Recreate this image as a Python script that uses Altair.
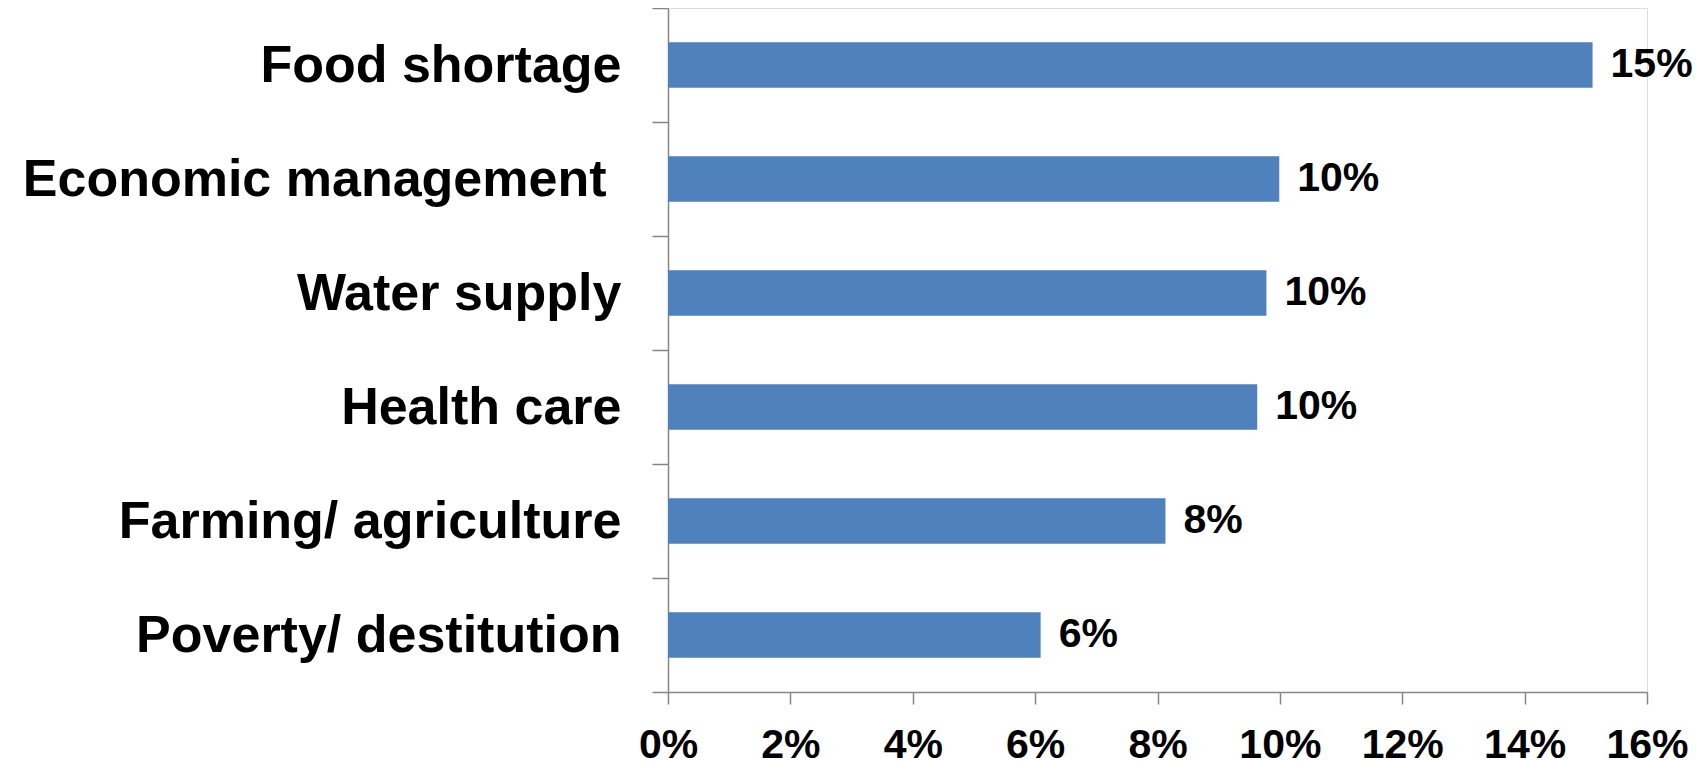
import altair as alt
import pandas as pd

categories = [
    "Food shortage",
    "Economic management",
    "Water supply",
    "Health care",
    "Farming/ agriculture",
    "Poverty/ destitution",
]
values = [0.1511, 0.0999, 0.0978, 0.0963, 0.0813, 0.0609]
x_ticks = [0, 0.02, 0.04, 0.06, 0.08, 0.10, 0.12, 0.14, 0.16]

df = pd.DataFrame({"category": categories, "value": values})

FONT = "Liberation Sans"
GRAY = "#868686"

y_enc = alt.Y(
    "category:N",
    sort=categories,
    title=None,
    scale=alt.Scale(paddingInner=0, paddingOuter=0),
    axis=alt.Axis(
        tickBand="extent",
        tickSize=16,
        tickColor=GRAY,
        tickWidth=1.5,
        domainColor=GRAY,
        domainWidth=1.5,
        labelFont=FONT,
        labelFontSize=52,
        labelFontWeight="bold",
        labelColor="black",
        labelPadding={
            "condition": {"test": "datum.value == 'Economic management'", "value": 46},
            "value": 31,
        },
        labelLimit=1000,
    ),
)

x_enc = alt.X(
    "value:Q",
    title=None,
    scale=alt.Scale(domain=[0, 0.16], nice=False),
    axis=alt.Axis(
        values=x_ticks,
        format=".0%",
        grid=False,
        tickSize=12,
        tickColor=GRAY,
        tickWidth=1.5,
        domainColor=GRAY,
        domainWidth=1.5,
        labelFont=FONT,
        labelFontSize=41,
        labelFontWeight="bold",
        labelColor="black",
        labelPadding=21,
        labelFlush=False,
        labelOverlap=False,
    ),
)

bars = alt.Chart(df).mark_bar(color="#4F81BD", size=45.6).encode(x=x_enc, y=y_enc)

labels = alt.Chart(df).mark_text(
    align="left",
    baseline="middle",
    dx=18,
    font=FONT,
    fontSize=41,
    fontWeight="bold",
    color="black",
).encode(
    x=alt.X("value:Q"),
    y=alt.Y("category:N", sort=categories),
    text=alt.Text("value:Q", format=".0%"),
)

chart = (
    alt.layer(bars, labels)
    .properties(
        width=979,
        height=684,
        autosize=alt.AutoSizeParams(type="none"),
        padding={"left": 660, "top": 0, "right": 50, "bottom": 69},
    )
    .configure_view(stroke=None)
    .configure(background="white")
)

chart.save("out.html", embed_options={"renderer": "svg", "actions": False})
